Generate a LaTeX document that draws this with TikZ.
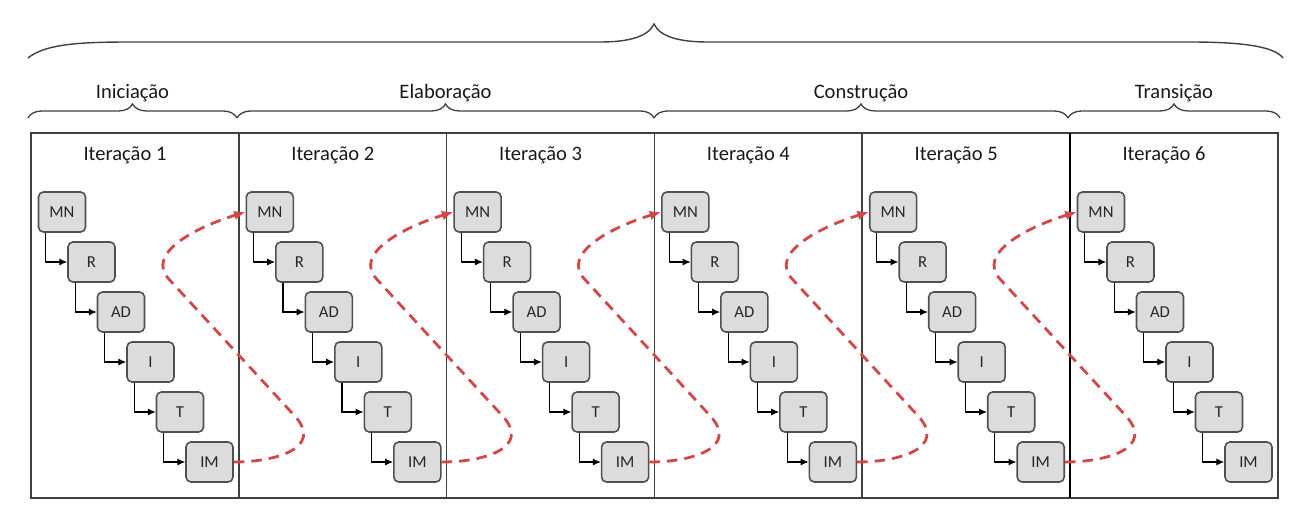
\documentclass[tikz,border=0pt]{standalone}
\usepackage{fontspec}
\setmainfont{Carlito}
\usetikzlibrary{arrows.meta,calc,decorations.pathreplacing}
\definecolor{boxfill}{HTML}{DCDCDC}
\definecolor{boxline}{HTML}{505050}
\definecolor{loopred}{HTML}{D24848}
\definecolor{frameline}{HTML}{404040}
\tikzset{
  activity/.style={draw=boxline, fill=boxfill, rounded corners=2.8pt, line width=0.9pt,
    minimum width=0.94cm, minimum height=0.8cm, inner sep=0pt,
    font=\fontsize{9.5}{11}\selectfont, text=black!85},
  flow/.style={-{Latex[length=4.5pt,width=4pt]}, line width=0.6pt},
  loopback/.style={-{Latex[length=6.5pt,width=5.5pt]}, loopred, dash pattern=on 6pt off 4pt, line width=1.6pt},
  phase/.style={decorate, decoration={brace, amplitude=8pt}, line width=0.75pt, draw=frameline},
  headtext/.style={font=\fontsize{11.7}{14}\selectfont, text=black!90}
}
\begin{document}
\begin{tikzpicture}[x=0.02cm,y=-0.02cm]
  \def\W{207.8} % width of one iteration
  \def\dx{29.5}
  \def\dy{50}
  \useasboundingbox (0,0) rectangle (1308,524);

  % whole project
  \coordinate (top west) at (28,58);
  \coordinate (top tip) at (654,24);
  \coordinate (top east) at (1283,58);
  \draw[frameline, line width=0.8pt] (top west) .. controls (45,44) and (80,42) .. (130,42) -- (600,42)
    .. controls (628,42) and (648,37) .. (top tip) .. controls (660,37) and (680,42) .. (708,42) -- (1190,42)
    .. controls (1240,42) and (1274,46) .. (top east);

  % phases
  \coordinate (b0) at (28,118);
  \coordinate (b1) at (237,118);
  \coordinate (b2) at (654,118);
  \coordinate (b3) at (1068,118);
  \coordinate (b4) at (1280,118);
  \foreach \s/\e/\nm [count=\i] in {b0/b1/Iniciação,b1/b2/Elaboração,b2/b3/Construção,b3/b4/Transição}
    \draw[phase] (\s) -- (\e) node[headtext, midway, yshift=0.5cm] (phase\i) {\nm};

  % frame of the iterations
  \draw[frameline, line width=1pt] (31,133) rectangle (1278,498);
  \foreach \p in {1,...,4} \draw[frameline, line width=1pt] (31+\p*\W,133) -- (31+\p*\W,498);
  \draw[black, line width=1.5pt] (31+5*\W,133) -- (31+5*\W,498);

  \foreach \p in {1,...,6} {
    \pgfmathsetmacro{\xo}{31+(\p-1)*\W}
    \node[headtext] (title\p) at (\xo+94,155) {Iteração \p};
    \foreach \nm/\lbl [count=\k from 0] in {mn/MN,r/R,ad/AD,i/I,t/T,im/IM}
      \node[activity] (\nm\p) at (\xo+31+\k*\dx,212+\k*\dy) {\lbl};
    \foreach \src/\dst in {mn/r,r/ad,ad/i,i/t,t/im}
      \draw[flow] ([xshift=0.16cm]\src\p.south west) |- (\dst\p.west);
  }

  % feedback into the next iteration
  \foreach \p [evaluate=\p as \q using int(\p+1)] in {1,...,5}
    \draw[loopback] (im\p.east) .. controls ($(im\p.east)+(42,0)$) and ($(im\p.east)+(90,-14)$) .. ($(im\p.east)+(61,-46)$)
      -- ($(im\p.east)+(-65,-183)$) .. controls ($(im\p.east)+(-88,-208)$) and ($(mn\q.west)+(-52,16)$) .. (mn\q.west);
\end{tikzpicture}
\end{document}
